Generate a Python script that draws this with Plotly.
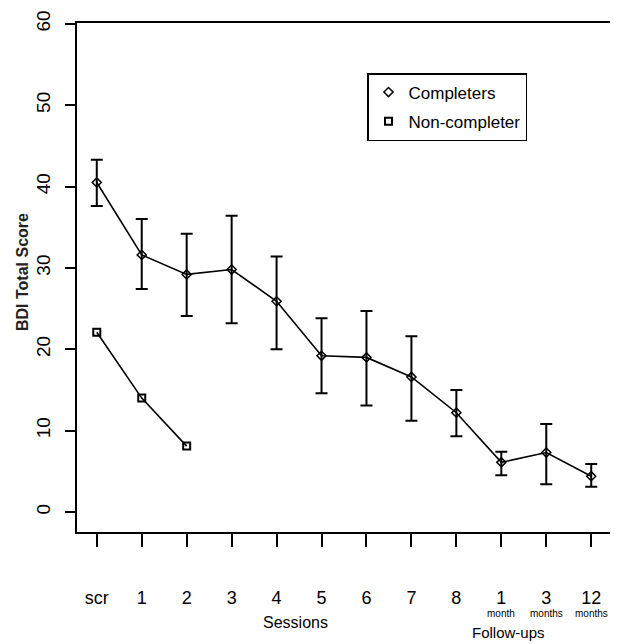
import plotly.graph_objects as go

# ---- data ----
x_labels = ["scr", "1", "2", "3", "4", "5", "6", "7", "8", "1", "3", "12"]
x_sub = ["", "", "", "", "", "", "", "", "", "month", "months", "months"]
completers = [40.5, 31.6, 29.2, 29.8, 25.9, 19.2, 19.0, 16.6, 12.2, 6.1, 7.3, 4.4]
comp_upper = [43.3, 36.0, 34.2, 36.4, 31.4, 23.8, 24.7, 21.6, 15.0, 7.4, 10.8, 5.9]
comp_lower = [37.6, 27.4, 24.1, 23.2, 20.0, 14.6, 13.1, 11.2, 9.3, 4.5, 3.4, 3.1]
noncompleters = [22.1, 14.0, 8.1]
y_ticks = [0, 10, 20, 30, 40, 50, 60]

xpos = list(range(1, len(x_labels) + 1))
err_plus = [u - v for u, v in zip(comp_upper, completers)]
err_minus = [v - l for v, l in zip(completers, comp_lower)]

FONT = "Liberation Sans, Arial, sans-serif"
NARROW = "Liberation Sans Narrow, Arial Narrow, Liberation Sans, Arial, sans-serif"

# the page body adds an 8px offset; the figure is sized to fit the 618x644 window
W, H = 610, 636
ML, MR, MT, MB = 69, 7, 15, 112
PW = W - ML - MR
PH = H - MT - MB
X0, Y0 = 8 + ML, 8 + MT          # plot area top-left in window pixels
YB = Y0 + PH                      # plot area bottom in window pixels


def px(xw):
    return (xw - X0) / PW


def py(yw):
    return (YB - yw) / PH


fig = go.Figure()
fig.add_trace(go.Scatter(
    x=xpos, y=completers, mode="lines+markers", showlegend=False,
    line=dict(color="black", width=1.6),
    marker=dict(symbol="diamond-open", size=7, color="black", line=dict(width=1.5)),
    error_y=dict(type="data", symmetric=False, array=err_plus, arrayminus=err_minus,
                 color="black", thickness=2, width=6),
))
fig.add_trace(go.Scatter(
    x=xpos[:len(noncompleters)], y=noncompleters, mode="lines+markers", showlegend=False,
    line=dict(color="black", width=1.6),
    marker=dict(symbol="square-open", size=7, color="black", line=dict(width=2)),
))
# legend entries (markers only)
fig.add_trace(go.Scatter(x=[None], y=[None], mode="markers", name="Completers", legendgroup="a",
                         marker=dict(symbol="diamond-open", size=7, color="black", line=dict(width=1.5))))
fig.add_trace(go.Scatter(x=[None], y=[None], mode="markers", name="Non-completer", legendgroup="b",
                         marker=dict(symbol="square-open", size=7, color="black", line=dict(width=2))))

for xp, s in zip(xpos, x_sub):
    if s:
        fig.add_annotation(x=xp, xref="x", y=py(613), yref="paper", text=s, showarrow=False,
                           font=dict(family=NARROW, size=10, color="black"), yanchor="middle")

fig.add_annotation(x=px(295), xref="paper", y=py(622), yref="paper",
                   text="Sessions", showarrow=False, yanchor="middle",
                   font=dict(family=NARROW, size=16, color="black"))
fig.add_annotation(x=px(547), xref="paper", y=py(632), yref="paper",
                   text="Follow-ups", showarrow=False, yanchor="middle",
                   font=dict(family=NARROW, size=15, color="black"))
fig.add_annotation(x=px(22), xref="paper", y=py(272), yref="paper",
                   text="<b>BDI Total Score</b>", showarrow=False, textangle=-90,
                   xanchor="center", yanchor="middle",
                   font=dict(family=FONT, size=16, color="#222"))

fig.update_layout(
    template="none",
    width=W, height=H,
    margin=dict(l=ML, r=MR, t=MT, b=MB),
    paper_bgcolor="white", plot_bgcolor="white",
    font=dict(family=FONT, color="black"),
    legend=dict(x=px(367), y=py(73), xanchor="left", yanchor="top",
                bordercolor="black", borderwidth=1.5, bgcolor="white",
                traceorder="grouped", tracegroupgap=4,
                font=dict(family=FONT, size=17, color="black"), itemwidth=30),
    xaxis=dict(range=[0.56, 12.44], tickvals=xpos, ticktext=x_labels, automargin=False,
               showgrid=False, zeroline=False, showline=True, linecolor="black",
               linewidth=1.6, mirror=True, ticks="outside", ticklen=13, tickwidth=1.6,
               tickcolor="black", ticklabelstandoff=36,
               tickfont=dict(family=NARROW, size=18, color="black")),
    yaxis=dict(range=[-2.46, 60.1], tickvals=y_ticks, automargin=False,
               showgrid=False, zeroline=False, showline=True, linecolor="black",
               linewidth=1.6, mirror=True, ticks="outside", ticklen=10, tickwidth=1.6,
               tickcolor="black", tickangle=-90, ticklabelstandoff=8,
               tickfont=dict(family=FONT, size=19, color="black")),
)

fig.write_html("out.html")
